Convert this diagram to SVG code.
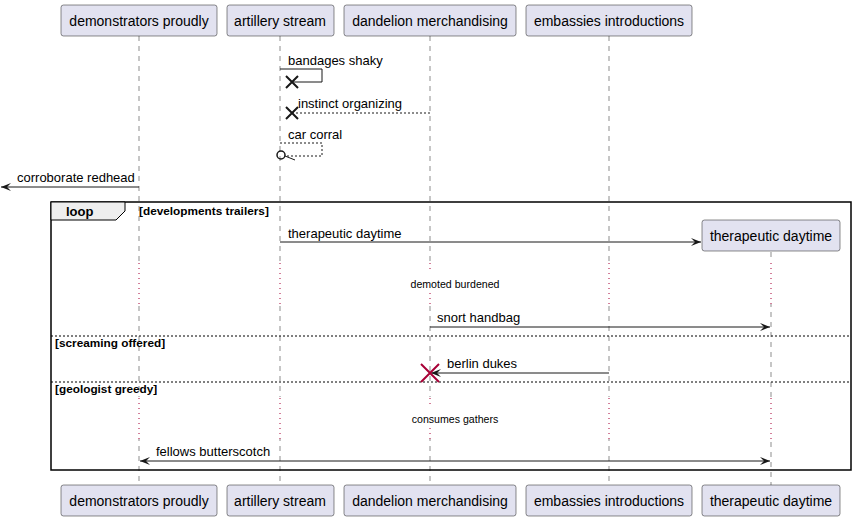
<svg xmlns="http://www.w3.org/2000/svg" width="856" height="521" viewBox="0 0 856 521">
<style>
.p rect{fill:#E2E2F0;stroke:#181818;stroke-width:0.5}
.p text{font-family:"Liberation Sans",Arial,sans-serif;font-size:14px;fill:#000;text-anchor:middle}
.life{stroke:#181818;stroke-width:0.5;stroke-dasharray:5,5;fill:none}
.delay{stroke:#A80036;stroke-width:1;stroke-dasharray:1,4;fill:none}
.m{stroke:#181818;stroke-width:1;fill:none}
.d{stroke:#181818;stroke-width:1;fill:none;stroke-dasharray:2,2}
.t{font-family:"Liberation Sans",Arial,sans-serif;font-size:13px;fill:#000}
.s{font-family:"Liberation Sans",Arial,sans-serif;font-size:10.6px;fill:#000;text-anchor:middle}
.b{font-family:"Liberation Sans",Arial,sans-serif;font-size:11.8px;font-weight:bold;fill:#000}
.x{stroke:#181818;stroke-width:2;fill:none}
</style>
<defs>
<marker id="arr" viewBox="0 0 10 8" refX="10" refY="4" markerWidth="10" markerHeight="8" markerUnits="userSpaceOnUse" orient="auto-start-reverse">
<path d="M0,0 L10,4 L0,8 L4,4 Z" fill="#181818"/>
</marker>
</defs>
<g id="lifelines">
<line class="life" x1="139" y1="36" x2="139" y2="485"/>
<line class="life" x1="280" y1="36" x2="280" y2="485"/>
<line class="life" x1="430" y1="36" x2="430" y2="485"/>
<line class="life" x1="609" y1="36" x2="609" y2="485"/>
<line class="life" x1="771" y1="252" x2="771" y2="485"/>
<rect x="130" y="262" width="700" height="42" fill="#fff"/>
<rect x="130" y="397" width="700" height="42" fill="#fff"/>
<line class="delay" x1="139" y1="263" x2="139" y2="304"/>
<line class="delay" x1="280" y1="263" x2="280" y2="304"/>
<line class="delay" x1="430" y1="263" x2="430" y2="270"/>
<line class="delay" x1="430" y1="293" x2="430" y2="304"/>
<line class="delay" x1="609" y1="263" x2="609" y2="304"/>
<line class="delay" x1="771" y1="263" x2="771" y2="304"/>
<line class="delay" x1="139" y1="398" x2="139" y2="439"/>
<line class="delay" x1="280" y1="398" x2="280" y2="439"/>
<line class="delay" x1="430" y1="398" x2="430" y2="405"/>
<line class="delay" x1="430" y1="428" x2="430" y2="439"/>
<line class="delay" x1="609" y1="398" x2="609" y2="439"/>
<line class="delay" x1="771" y1="398" x2="771" y2="439"/>
</g>
<g id="loop-frame">
<rect x="51" y="202" width="800" height="268" fill="none" stroke="#000" stroke-width="1.5"/>
<path d="M51,202 L125,202 L125,211 L116,220 L51,220 Z" fill="#EEEEEE" stroke="#000" stroke-width="1"/>
<text x="66" y="216" style="font-family:'Liberation Sans',Arial,sans-serif;font-size:13px;font-weight:bold">loop</text>
<text class="b" x="139" y="215">[developments trailers]</text>
<line x1="51" y1="336" x2="851" y2="336" stroke="#000" stroke-width="1" stroke-dasharray="2,2"/>
<text class="b" x="55" y="347">[screaming offered]</text>
<line x1="51" y1="382" x2="851" y2="382" stroke="#000" stroke-width="1" stroke-dasharray="2,2"/>
<text class="b" x="55" y="393">[geologist greedy]</text>
</g>
<g id="connectors">
<path class="m" d="M280,69 L322,69 L322,82 L292,82"/>
<path class="x" d="M286,76 L298,88 M298,76 L286,88"/>
<text class="t" x="288" y="65">bandages shaky</text>
<line class="d" x1="430" y1="113" x2="292" y2="113"/>
<path class="x" d="M286,107 L298,119 M298,107 L286,119"/>
<text class="t" x="298" y="108">instinct organizing</text>
<path class="d" d="M280,143 L322,143 L322,156 L286,156"/>
<circle cx="281" cy="155" r="4" fill="none" stroke="#181818" stroke-width="1.5"/>
<line x1="285" y1="156" x2="295" y2="160" stroke="#181818" stroke-width="1"/>
<text class="t" x="288" y="139">car corral</text>
<line class="m" x1="139" y1="187" x2="1" y2="187" marker-end="url(#arr)"/>
<text class="t" x="17" y="182">corroborate redhead</text>
<line class="m" x1="280" y1="242" x2="701" y2="242" marker-end="url(#arr)"/>
<text class="t" x="288" y="238">therapeutic daytime</text>
<text class="s" x="455" y="288">demoted burdened</text>
<line class="m" x1="430" y1="327" x2="770" y2="327" marker-end="url(#arr)"/>
<text class="t" x="437" y="322">snort handbag</text>
<line class="m" x1="609" y1="373" x2="431" y2="373" marker-end="url(#arr)"/>
<path d="M421,364 L439,382 M439,364 L421,382" stroke="#A80036" stroke-width="2" fill="none"/>
<text class="t" x="447" y="368">berlin dukes</text>
<text class="s" x="455" y="423">consumes gathers</text>
<line class="m" x1="140" y1="461" x2="770" y2="461" marker-start="url(#arr)" marker-end="url(#arr)"/>
<text class="t" x="156" y="456">fellows butterscotch</text>
</g>
<g id="p-demonstrators" class="p">
<rect x="61" y="5" width="156" height="31" rx="2.5"/>
<text x="139" y="26">demonstrators proudly</text>
<rect x="61" y="485" width="156" height="31" rx="2.5"/>
<text x="139" y="506">demonstrators proudly</text>
</g>
<g id="p-artillery" class="p">
<rect x="227" y="5" width="107" height="31" rx="2.5"/>
<text x="280" y="26">artillery stream</text>
<rect x="227" y="485" width="107" height="31" rx="2.5"/>
<text x="280" y="506">artillery stream</text>
</g>
<g id="p-dandelion" class="p">
<rect x="344" y="5" width="172" height="31" rx="2.5"/>
<text x="430" y="26">dandelion merchandising</text>
<rect x="344" y="485" width="172" height="31" rx="2.5"/>
<text x="430" y="506">dandelion merchandising</text>
</g>
<g id="p-embassies" class="p">
<rect x="526" y="5" width="166" height="31" rx="2.5"/>
<text x="609" y="26">embassies introductions</text>
<rect x="526" y="485" width="166" height="31" rx="2.5"/>
<text x="609" y="506">embassies introductions</text>
</g>
<g id="p-therapeutic" class="p">
<rect x="702" y="220" width="138" height="31" rx="2.5"/>
<text x="771" y="241">therapeutic daytime</text>
<rect x="702" y="485" width="138" height="31" rx="2.5"/>
<text x="771" y="506">therapeutic daytime</text>
</g>
</svg>
